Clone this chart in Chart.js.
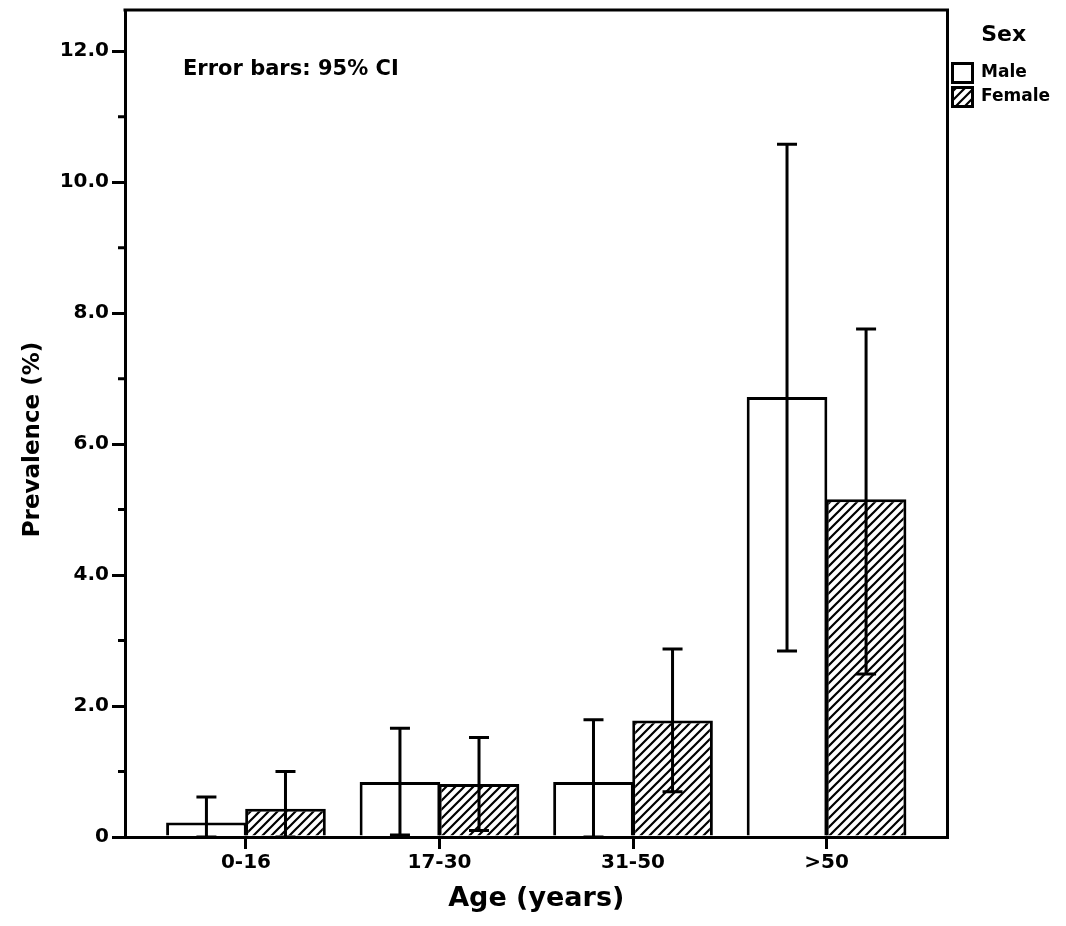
<!DOCTYPE html>
<html>
<head>
<meta charset="utf-8">
<script src="https://cdn.jsdelivr.net/npm/chart.js@4"></script>
<style>
  html, body { margin: 0; padding: 0; background: #fff; }
</style>
</head>
<body>
<canvas id="grafica" width="1066" height="926"></canvas>
<script>
// Datos
const categories = ['0-16', '17-30', '31-50', '>50'];
const male = [0.22, 0.84, 0.84, 6.72];
const maleLow = [0, 0.03, 0, 2.84];
const maleHigh = [0.61, 1.66, 1.79, 10.58];
const female = [0.43, 0.81, 1.78, 5.16];
const femaleLow = [0, 0.1, 0.69, 2.49];
const femaleHigh = [1.0, 1.52, 2.87, 7.76];
const yTicks = [0, 2, 4, 6, 8, 10, 12];
const yTickLabels = ['0', '2.0', '4.0', '6.0', '8.0', '10.0', '12.0'];
const yMinorTicks = [1, 3, 5, 7, 9, 11];

Chart.defaults.font.family = '"DejaVu Sans", sans-serif';
Chart.defaults.color = '#000';

// Patron rayado para Female
function hatch() {
  const s = 9;
  const c = document.createElement('canvas');
  c.width = s; c.height = s;
  const g = c.getContext('2d');
  g.fillStyle = '#fff';
  g.fillRect(0, 0, s, s);
  g.strokeStyle = '#000';
  g.lineWidth = 2.2;
  g.beginPath();
  g.moveTo(0, s); g.lineTo(s, 0);
  g.moveTo(-s / 2, s / 2); g.lineTo(s / 2, -s / 2);
  g.moveTo(s / 2, s * 1.5); g.lineTo(s * 1.5, s / 2);
  g.stroke();
  return g.createPattern(c, 'repeat');
}

// Barras de error (IC 95%)
const errorBars = {
  id: 'errorBars',
  afterDatasetsDraw(chart) {
    const ctx = chart.ctx;
    const y = chart.scales.y;
    const lows = [maleLow, femaleLow];
    const highs = [maleHigh, femaleHigh];
    ctx.save();
    ctx.strokeStyle = '#000';
    ctx.lineWidth = 3;
    chart.data.datasets.forEach(function (ds, d) {
      chart.getDatasetMeta(d).data.forEach(function (bar, i) {
        const lo = y.getPixelForValue(lows[d][i]);
        const hi = y.getPixelForValue(highs[d][i]);
        ctx.beginPath();
        ctx.moveTo(bar.x, lo); ctx.lineTo(bar.x, hi);
        ctx.moveTo(bar.x - 10, hi); ctx.lineTo(bar.x + 10, hi);
        ctx.moveTo(bar.x - 10, lo); ctx.lineTo(bar.x + 10, lo);
        ctx.stroke();
      });
    });
    ctx.restore();
  }
};

// Marco, ticks menores y nota
const frame = {
  id: 'frame',
  afterDraw(chart) {
    const ctx = chart.ctx;
    const a = chart.chartArea;
    const y = chart.scales.y;
    ctx.save();
    ctx.strokeStyle = '#000';
    ctx.lineWidth = 3;
    ctx.beginPath();
    ctx.moveTo(a.left - 1.5, a.top);
    ctx.lineTo(a.right, a.top);
    ctx.lineTo(a.right, a.bottom);
    yMinorTicks.forEach(function (v) {
      const py = y.getPixelForValue(v);
      ctx.moveTo(a.left - 7, py);
      ctx.lineTo(a.left, py);
    });
    ctx.stroke();
    ctx.fillStyle = '#000';
    ctx.font = 'bold 21px "DejaVu Sans"';
    ctx.textBaseline = 'middle';
    ctx.fillText('Error bars: 95% CI', a.left + 58, a.top + 60);
    ctx.restore();
  }
};

const ctx = document.getElementById('grafica').getContext('2d');
const grafica = new Chart(ctx, {
  type: 'bar',
  data: {
    datasets: [{
      label: 'Male',
      data: male.map(function (v, i) { return {x: i, y: v}; }),
      backgroundColor: '#fff',
      borderColor: '#000',
      borderWidth: 3
    }, {
      label: 'Female',
      data: female.map(function (v, i) { return {x: i, y: v}; }),
      backgroundColor: hatch(),
      borderColor: '#000',
      borderWidth: 3
    }]
  },
  options: {
    responsive: false,
    animation: false,
    categoryPercentage: 0.817,
    barPercentage: 1.02,
    layout: { padding: { top: 10, right: 6, left: 0, bottom: 0 } },
    scales: {
      x: {
        type: 'linear',
        offset: false,
        min: -0.625,
        max: 3.625,
        afterBuildTicks: function (scale) {
          scale.ticks = categories.map(function (c, i) { return {value: i}; });
        },
        afterFit: function (scale) {
          scale.height = 89;
          scale.paddingLeft = 0;
          scale.paddingRight = 0;
        },
        ticks: {
          callback: function (v) { return categories[v]; },
          font: { size: 20, weight: 'bold' },
          padding: 2,
          maxRotation: 0
        },
        grid: { offset: false, drawOnChartArea: false, color: '#000', lineWidth: 3, tickLength: 12 },
        border: { display: true, color: '#000', width: 3 },
        title: {
          display: true,
          text: 'Age (years)',
          font: { size: 27, weight: 'bold' },
          padding: { top: 0, bottom: 11 }
        }
      },
      y: {
        min: 0,
        max: 12.63,
        afterBuildTicks: function (scale) {
          scale.ticks = yTicks.map(function (v) { return {value: v}; });
        },
        afterFit: function (scale) {
          scale.width = 125;
          scale.paddingTop = 0;
          scale.paddingBottom = 0;
        },
        ticks: {
          callback: function (v) { return yTickLabels[yTicks.indexOf(v)]; },
          font: { size: 20, weight: 'bold' },
          padding: 3
        },
        grid: { drawOnChartArea: false, color: '#000', lineWidth: 3, tickLength: 13 },
        border: { display: true, color: '#000', width: 3 },
        title: {
          display: true,
          text: 'Prevalence (%)\u00a0\u00a0\u00a0\u00a0',
          font: { size: 23, weight: 'bold' },
          padding: { top: 19, bottom: 0 }
        }
      }
    },
    plugins: {
      tooltip: { enabled: false },
      legend: {
        position: 'right',
        align: 'start',
        title: {
          display: true,
          text: 'Sex',
          font: { size: 22, weight: 'bold' },
          padding: { top: 14, bottom: 8 }
        },
        labels: {
          boxWidth: 20,
          boxHeight: 19,
          padding: 5,
          font: { size: 17, weight: 'bold' },
          color: '#000'
        }
      }
    }
  },
  plugins: [errorBars, frame]
});
</script>
</body>
</html>
